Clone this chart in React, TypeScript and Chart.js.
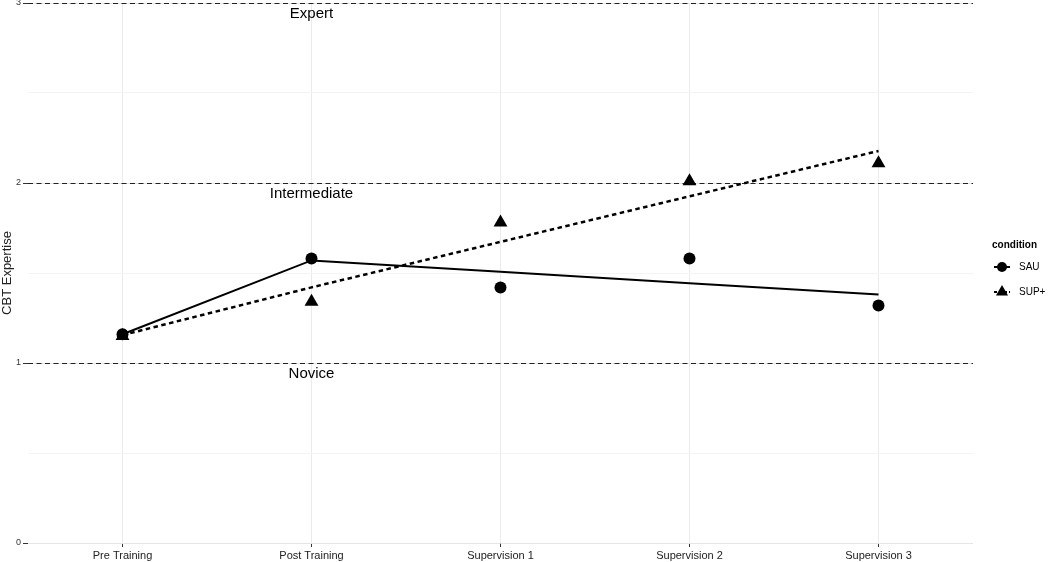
import React, { useEffect, useRef } from "react";
import { Chart, registerables } from "chart.js";

Chart.register(...registerables);

const categories = ["Pre Training", "Post Training", "Supervision 1", "Supervision 2", "Supervision 3"];
const sauPoints = [1.16, 1.58, 1.42, 1.58, 1.32];
const supPoints = [1.15, 1.34, 1.78, 2.01, 2.11];
const sauLine = [1.16, 1.57, 1.507, 1.443, 1.38];
const supLine = [1.155, 1.42, 1.673, 1.926, 2.178];
const refLevels = [1, 2, 3];
const refLabels = ["Novice", "Intermediate", "Expert"];
const refLabelCategory = "Post Training";
const legendTitle = "condition";
const seriesNames = ["SAU", "SUP+"];
const yTitle = "CBT Expertise";

const FONT = "'Liberation Sans', Arial, sans-serif";

const refLinesPlugin = {
  id: "refLines",
  beforeDatasetsDraw(chart: any) {
    const { ctx, chartArea, scales } = chart;
    const y = scales.y;
    const x = scales.x;
    const lx = x.getPixelForValue(categories.indexOf(refLabelCategory));
    ctx.save();
    ctx.strokeStyle = "#222";
    ctx.lineWidth = 1.2;
    ctx.setLineDash([5, 3.5]);
    refLevels.forEach((lvl) => {
      const py = Math.round(y.getPixelForValue(lvl)) + 0.5;
      ctx.beginPath();
      ctx.moveTo(chartArea.left, py);
      ctx.lineTo(chartArea.right, py);
      ctx.stroke();
    });
    ctx.setLineDash([]);
    ctx.fillStyle = "#000";
    ctx.font = `15px ${FONT}`;
    ctx.textAlign = "center";
    ctx.textBaseline = "middle";
    refLevels.forEach((lvl, i) => {
      const py = y.getPixelForValue(lvl);
      ctx.fillText(refLabels[i], lx, py + 11);
    });
    ctx.restore();
  },
};

const legendPlugin = {
  id: "customLegend",
  afterDraw(chart: any) {
    const { ctx, chartArea } = chart;
    const x0 = chartArea.right + 19;
    const cx = x0 + 10;
    const base = chartArea.top - 3;
    ctx.save();
    ctx.fillStyle = "#000";
    ctx.font = `bold 10px ${FONT}`;
    ctx.textAlign = "left";
    ctx.textBaseline = "middle";
    ctx.fillText(legendTitle, x0, base + 245);
    // SAU key
    let ky = base + 267;
    ctx.strokeStyle = "#000";
    ctx.lineWidth = 2;
    ctx.beginPath();
    ctx.moveTo(cx - 8, ky);
    ctx.lineTo(cx + 8, ky);
    ctx.stroke();
    ctx.beginPath();
    ctx.arc(cx, ky, 5, 0, Math.PI * 2);
    ctx.fill();
    ctx.font = `10px ${FONT}`;
    ctx.fillText(seriesNames[0], x0 + 27, ky);
    // SUP+ key
    ky = base + 292;
    ctx.setLineDash([3, 2]);
    ctx.beginPath();
    ctx.moveTo(cx - 8, ky);
    ctx.lineTo(cx + 8, ky);
    ctx.stroke();
    ctx.setLineDash([]);
    const r = 7;
    ctx.beginPath();
    ctx.moveTo(cx, ky - r);
    ctx.lineTo(cx + r * 0.866, ky + r / 2);
    ctx.lineTo(cx - r * 0.866, ky + r / 2);
    ctx.closePath();
    ctx.fill();
    ctx.fillText(seriesNames[1], x0 + 27, ky);
    ctx.restore();
  },
};

export default function App() {
  const ref = useRef<HTMLCanvasElement | null>(null);
  useEffect(() => {
    if (!ref.current) return;
    Chart.defaults.font.family = FONT;
    const chart = new Chart(ref.current, {
      type: "line",
      data: {
        labels: categories,
        datasets: [
          {
            label: "SAU fit",
            data: sauLine,
            borderColor: "#000",
            borderWidth: 2,
            pointRadius: 0,
            tension: 0,
            fill: false,
          },
          {
            label: "SUP+ fit",
            data: supLine,
            borderColor: "#000",
            borderWidth: 2.5,
            borderDash: [4.5, 3.5],
            pointRadius: 0,
            tension: 0,
            fill: false,
          },
          {
            label: "SAU",
            data: sauPoints,
            showLine: false,
            pointStyle: "circle",
            pointRadius: 6,
            pointBackgroundColor: "#000",
            pointBorderWidth: 0,
            borderColor: "#000",
          },
          {
            label: "SUP+",
            data: supPoints,
            showLine: false,
            pointStyle: "triangle",
            pointRadius: 8,
            pointBackgroundColor: "#000",
            pointBorderWidth: 0,
            borderColor: "#000",
          },
        ],
      },
      options: {
        responsive: false,
        animation: false,
        layout: { padding: { top: 3, right: 77, left: 0, bottom: 0 } },
        plugins: {
          legend: { display: false },
          tooltip: { enabled: false },
        },
        scales: {
          x: {
            type: "category",
            offset: true,
            grid: { offset: false, color: "#ebebeb", tickColor: "#333", tickLength: 4, lineWidth: 1 },
            border: { display: false },
            ticks: { font: { size: 11 }, color: "#222", padding: 2, maxRotation: 0, autoSkip: false },
            afterFit(scale: any) {
              scale.height = 19;
              scale.paddingLeft = 0;
              scale.paddingRight = 0;
            },
          },
          y: {
            type: "linear",
            min: 0,
            max: 3,
            ticks: {
              stepSize: 0.5,
              autoSkip: false,
              font: { size: 9 },
              color: "#333",
              padding: 2,
              callback: (v: any) => (Number.isInteger(v) ? String(v) : ""),
            },
            grid: {
              color: (c: any) => (Number.isInteger(c.tick?.value) ? "#e6e6e6" : "#f4f4f4"),
              tickColor: (c: any) => (Number.isInteger(c.tick?.value) ? "#333" : "rgba(0,0,0,0)"),
              tickLength: 5,
              lineWidth: 1,
            },
            border: { display: false },
            title: { display: true, text: yTitle, font: { size: 13 }, color: "#222", padding: 0 },
            afterFit(scale: any) {
              scale.width = 28;
              scale.paddingTop = 0;
              scale.paddingBottom = 0;
            },
          },
        },
      },
      plugins: [refLinesPlugin, legendPlugin],
    });
    return () => chart.destroy();
  }, []);
  return (
    <div style={{ position: "fixed", left: 0, top: -5, width: 1050, height: 567, background: "#fff" }}>
      <canvas ref={ref} width={1050} height={567} style={{ display: "block" }} />
    </div>
  );
}
